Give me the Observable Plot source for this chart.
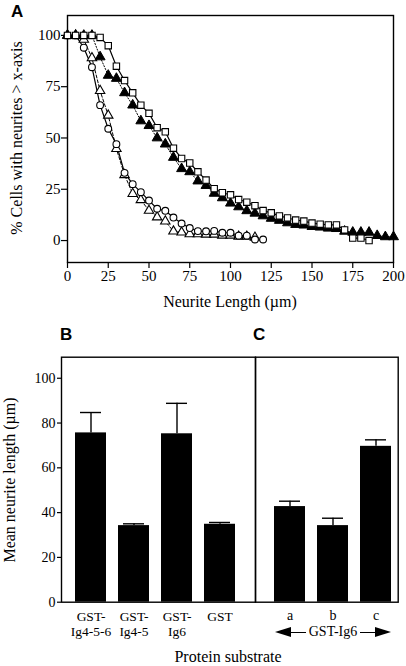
<!DOCTYPE html>
<html><head><meta charset="utf-8">
<script src="https://cdn.jsdelivr.net/npm/d3@7"></script>
<script src="https://cdn.jsdelivr.net/npm/@observablehq/plot@0.6"></script>
<style>
body{margin:0;background:#fff;}
#root{position:relative;width:406px;height:666px;overflow:hidden;font-family:"Liberation Serif","Times New Roman",serif;color:#000;background:#fff;}
#root svg{position:absolute;left:0;display:block;}
#root svg text{font-family:"Liberation Serif","Times New Roman",serif;fill:#000;}
#root svg.pa text{font-size:15px;}
#root svg.pb text{font-size:13.5px;}
#root svg.pc text{font-size:14px;}
#root svg.pb g[aria-label="y-axis tick label"] text{font-size:14px;}
.lbl{position:absolute;white-space:nowrap;font-size:16px;line-height:16px;transform:translate(-50%,-50%);}
.rot{transform:translate(-50%,-50%) rotate(-90deg);}
.panel{position:absolute;font:bold 17px "Liberation Sans",Arial,sans-serif;line-height:17px;}
.arrowrow{position:absolute;display:flex;align-items:center;transform:translateY(-50%);font-size:14px;line-height:14px;}
.head-l{width:0;height:0;border-top:5px solid transparent;border-bottom:5px solid transparent;border-right:16px solid #000;}
.head-r{width:0;height:0;border-top:5px solid transparent;border-bottom:5px solid transparent;border-left:16px solid #000;}
.shaft{height:0;border-top:1.5px solid #000;flex:1;}
</style></head><body><div id="root"></div>
<script>
// ---------- Panel A data ----------
const neuriteLengths = [0,5,10,15,20,25,30,35,40,45,50,55,60,65,70,75,80,85,90,95,100,105,110,115,120,125,130,135,140,145,150,155,160,165,170,175,180,185,190,195,200];
const squaresPct = [100,100,100,100,99,95,85,78,72,66,62,55,53,45,40,37.8,33.5,29.5,25.3,23.3,22.3,20,18.7,17,14.6,13.5,12,11,10,9.5,8.5,8,7.6,7.6,5.2,1.2,1.2,0];
const filledTrianglesPct = [100,100,100,100,89.5,80.5,79,72,66,58.3,56,50,47,40.5,35,33.5,29,26.8,23,20.8,18.2,16.4,14.5,13.3,12,10.8,9.8,8.6,7.8,7.5,6.8,6.5,6,5.8,4.5,4,4,4,2.4,1.8,1.8];
const circlesPct = [100,100,94,84.5,66,54.5,47,33,27.5,23.6,19.5,15.5,14.5,11.2,8.3,6.1,4.6,4.5,4.7,3.8,3.8,2.4,2.4,0.5,0.5];
const openTrianglesPct = [100,100,98,89,73,61,44.7,32,22.8,19.8,14.6,11.4,9.4,4.5,4,3.2,3.2,3,3,2.5,2.5,2,2,1.5];
const xTicksA = [0,25,50,75,100,125,150,175,200];
const yTicksA = [0,25,50,75,100];

// ---------- Panels B and C data ----------
const bCategories = ["GST-Ig4-5-6","GST-Ig4-5","GST-Ig6","GST"];
const bTickLabels = ["GST-\nIg4-5-6","GST-\nIg4-5","GST-\nIg6","GST"];
const bMeans = [75.6, 34.2, 75.2, 34.8];
const bErrors = [9.1, 0.8, 13.6, 0.8];
const cCategories = ["a","b","c"];
const cMeans = [42.7, 34.2, 69.6];
const cErrors = [2.4, 3.3, 2.9];
const yTicksBC = [0,20,40,60,80,100];

const SERIF = "Liberation Serif";
const root = document.getElementById("root");
const pts = vals => vals.map((v,i)=>({len: neuriteLengths[i], pct: v}));
const sq = pts(squaresPct), ft = pts(filledTrianglesPct), ci = pts(circlesPct), ot = pts(openTrianglesPct);

const plotA = Plot.plot({
  width: 406, height: 290,
  marginLeft: 67, marginRight: 13, marginTop: 15, marginBottom: 28,
  style: {fontFamily: SERIF, fontSize: "15px", color: "#000", background: "transparent"},
  x: {domain: [0,200], label: null},
  y: {domain: [-10.7, 109.7], label: null},
  marks: [
    Plot.frame({stroke: "#000", strokeWidth: 1.4}),
    Plot.axisX({ticks: xTicksA, tickSize: 6, tickPadding: 2, label: null, strokeWidth: 1.2, fontFamily: SERIF, fontSize: 15}),
    Plot.axisY({ticks: yTicksA, tickSize: 6, tickPadding: 1, label: null, strokeWidth: 1.2, fontFamily: SERIF, fontSize: 15}),
    Plot.line(ot, {x: "len", y: "pct", stroke: "#000", strokeWidth: 1, strokeDasharray: "3,2"}),
    Plot.line(ci, {x: "len", y: "pct", stroke: "#000", strokeWidth: 1.2}),
    Plot.line(ft, {x: "len", y: "pct", stroke: "#000", strokeWidth: 1, strokeDasharray: "1.2,1.8"}),
    Plot.line(sq, {x: "len", y: "pct", stroke: "#000", strokeWidth: 1.2}),
    Plot.dot(ot, {x: "len", y: "pct", symbol: "triangle", r: 3.5, fill: "#fff", stroke: "#000", strokeWidth: 1.1}),
    Plot.dot(ci, {x: "len", y: "pct", symbol: "circle", r: 3.4, fill: "#fff", stroke: "#000", strokeWidth: 1.1}),
    Plot.dot(ft, {x: "len", y: "pct", symbol: "triangle", r: 3.7, fill: "#000", stroke: "#000", strokeWidth: 1}),
    Plot.dot(sq, {x: "len", y: "pct", symbol: "square", r: 3.6, fill: "#fff", stroke: "#000", strokeWidth: 1.1})
  ]
});
plotA.classList.add("pa");
plotA.style.top = "0px";
root.appendChild(plotA);

const bData = bCategories.map((c,i)=>({cat: c, mean: bMeans[i], err: bErrors[i]}));
const cData = cCategories.map((c,i)=>({cat: c, mean: cMeans[i], err: cErrors[i]}));
const bLabelOf = new Map(bCategories.map((c,i)=>[c, bTickLabels[i]]));
const yDomainBC = [0, 109.4];

function barMarks(data){
  return [
    Plot.ruleX(data, {x: "cat", y1: "mean", y2: d => d.mean + d.err, stroke: "#000", strokeWidth: 1.4}),
    Plot.tickY(data, {x: "cat", y: d => d.mean + d.err, stroke: "#000", strokeWidth: 1.4, insetLeft: 5, insetRight: 5}),
    Plot.barY(data, {x: "cat", y: "mean", fill: "#000"}),
    Plot.frame({stroke: "#000", strokeWidth: 1.4})
  ];
}

const plotB = Plot.plot({
  width: 406, height: 302,
  marginLeft: 61, marginRight: 151, marginTop: 16.7, marginBottom: 40.3,
  style: {fontFamily: SERIF, fontSize: "13.5px", color: "#000", background: "transparent"},
  x: {domain: bCategories, paddingInner: 0.29, paddingOuter: 0.366, align: 0.42, label: null},
  y: {domain: yDomainBC, label: null},
  marks: [
    ...barMarks(bData),
    Plot.axisY({ticks: yTicksBC, tickSize: 4, tickPadding: 2, label: null, strokeWidth: 1.2, fontFamily: SERIF, fontSize: 14}),
    Plot.axisX({tickSize: 0, tickPadding: 8, label: null, tickFormat: d => bLabelOf.get(d), lineHeight: 1.12, fontFamily: SERIF, fontSize: 13.5})
  ]
});
plotB.classList.add("pb");
plotB.style.top = "340px";
root.appendChild(plotB);

const plotC = Plot.plot({
  width: 406, height: 302,
  marginLeft: 255, marginRight: 8.3, marginTop: 16.7, marginBottom: 40.3,
  style: {fontFamily: SERIF, fontSize: "14px", color: "#000", background: "transparent"},
  x: {domain: cCategories, paddingInner: 0.29, paddingOuter: 0.28, align: 0.71, label: null},
  y: {domain: yDomainBC, label: null, axis: null},
  marks: [
    ...barMarks(cData),
    Plot.axisX({tickSize: 0, tickPadding: 8, label: null, fontFamily: SERIF, fontSize: 14})
  ]
});
plotC.classList.add("pc");
plotC.style.top = "340px";
root.appendChild(plotC);

function addLabel(text, x, y, cls){
  const d = document.createElement("div");
  d.className = cls || "lbl";
  d.textContent = text;
  d.style.left = x + "px"; d.style.top = y + "px";
  root.appendChild(d);
  return d;
}
addLabel("A", 11, 3, "panel");
addLabel("B", 60, 326, "panel");
addLabel("C", 253, 326, "panel");
addLabel("Neurite Length (\u00b5m)", 230, 302);
addLabel("% Cells with neurites > x-axis", 17, 138, "lbl rot");
addLabel("Mean neurite length (\u00b5m)", 10, 480, "lbl rot");
addLabel("Protein substrate", 228, 657);

const row = document.createElement("div");
row.className = "arrowrow";
row.style.left = "275px"; row.style.top = "632px"; row.style.width = "116px";
row.innerHTML = '<div class="head-l"></div><div class="shaft"></div><span style="padding:0 3px">GST-Ig6</span><div class="shaft"></div><div class="head-r"></div>';
root.appendChild(row);
</script></body></html>
